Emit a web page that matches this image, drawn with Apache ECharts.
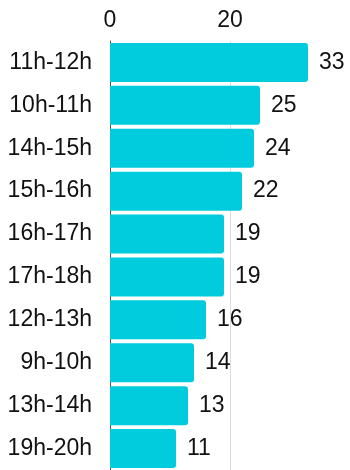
<!DOCTYPE html>
<html>
<head>
<meta charset="utf-8">
<script src="https://cdn.jsdelivr.net/npm/echarts@6/dist/echarts.min.js"></script>
<style>
  html, body { margin: 0; padding: 0; background: #fff; }
  #chart { width: 350px; height: 470px; }
</style>
</head>
<body>
<div id="chart"></div>
<script>
// Hourly slots, busiest first
const slots = ['11h-12h', '10h-11h', '14h-15h', '15h-16h', '16h-17h', '17h-18h', '12h-13h', '9h-10h', '13h-14h', '19h-20h'];
const counts = [33, 25, 24, 22, 19, 19, 16, 14, 13, 11];
const axisTicks = [0, 20, 40];

const FONT = "'Liberation Sans', Arial, sans-serif";

const chart = echarts.init(document.getElementById('chart'), null, { renderer: 'canvas' });
chart.setOption({
  animation: false,
  textStyle: { fontFamily: FONT },
  // the plot runs a little past the right and bottom edges of the canvas
  grid: { left: 110, width: 244, top: 41, height: 432, containLabel: false },
  xAxis: {
    type: 'value',
    position: 'top',
    min: axisTicks[0],
    max: axisTicks[axisTicks.length - 1],
    interval: axisTicks[1] - axisTicks[0],
    axisLine: { show: false },
    axisTick: { show: false },
    axisLabel: { color: '#111', fontSize: 23, fontFamily: FONT, margin: 9, showMaxLabel: false },
    splitLine: { show: true, lineStyle: { color: '#dcdcdc', width: 1 } }
  },
  yAxis: {
    type: 'category',
    inverse: true,
    data: slots,
    axisLine: { show: true, lineStyle: { color: '#555', width: 1 } },
    axisTick: { show: false },
    axisLabel: { color: '#111', fontSize: 23, fontFamily: FONT, margin: 18 }
  },
  series: [{
    type: 'bar',
    data: counts,
    barCategoryGap: '9%',
    itemStyle: { color: '#00CCDD', borderRadius: [0, 3, 3, 0] },
    label: {
      show: true,
      position: 'right',
      distance: 11,
      color: '#111',
      fontSize: 23,
      fontFamily: FONT
    }
  }]
});
</script>
</body>
</html>
